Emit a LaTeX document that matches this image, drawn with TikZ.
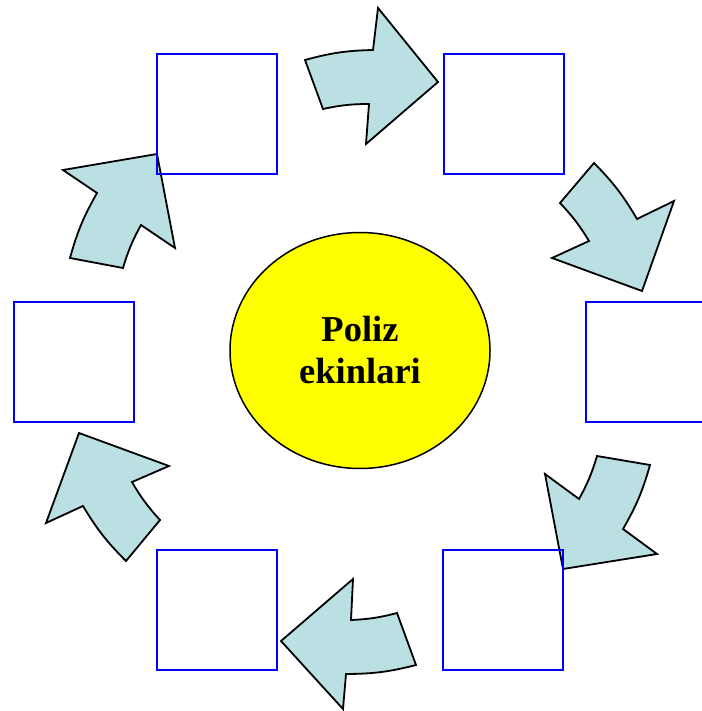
\documentclass[tikz,border=0pt]{standalone}
\usepackage{fontspec}
\setmainfont{Liberation Serif}
\usetikzlibrary{shapes.geometric}

\definecolor{arrowfill}{RGB}{186,224,227}
\definecolor{cropyellow}{RGB}{255,255,0}
\definecolor{boxblue}{RGB}{0,0,255}

\tikzset{
  stagebox/.style={rectangle,draw=boxblue,line width=2pt,minimum size=120pt,inner sep=0pt},
  cyclearrow/.style={fill=arrowfill,draw=black,line width=1.8pt,line join=miter}
}

\begin{document}
\begin{tikzpicture}[x=1pt,y=-1pt]
        \useasboundingbox (0,0) rectangle (701,711);

        % arrows running clockwise round the centre
        \draw[cyclearrow] (305,60) to[bend left=7] (373,50) -- (378,8) -- (438,82) -- (366,144) -- (369,104) to[bend right=6] (323,109) -- cycle;
        \draw[cyclearrow] (594,163) to[bend left=7] (637,219) -- (674,201) -- (642,291) -- (552,258) -- (589,241) to[bend right=6] (560,203) -- cycle;
        \draw[cyclearrow] (650,465) to[bend left=7] (623,529) -- (657,554) -- (563,569) -- (545,474) -- (579,499) to[bend right=6] (597,456) -- cycle;
        \draw[cyclearrow] (416,665) to[bend left=7] (346,674) -- (343,709) -- (281,641) -- (353,579) -- (351,620) to[bend right=6] (397,613) -- cycle;
        \draw[cyclearrow] (126,561) to[bend left=7] (83,506) -- (46,523) -- (79,433) -- (169,466) -- (132,482) to[bend right=6] (160,520) -- cycle;
        \draw[cyclearrow] (70,258) to[bend left=7] (97,193) -- (63,170) -- (157,154) -- (175,248) -- (141,225) to[bend right=6] (123,268) -- cycle;

        % empty stage boxes
        \node (topleft) at (216.7,113.8) [stagebox]{};
        \node (topright) at (503.5,113.8) [stagebox]{};
        \node (right) at (646,362) [stagebox]{};
        \node (bottomright) at (503,609.7) [stagebox]{};
        \node (bottomleft) at (216.7,609.7) [stagebox]{};
        \node (left) at (73.7,362) [stagebox]{};

        \node (crop) at (360,350.5) [ellipse,draw=black,fill=cropyellow,line width=1.5pt,
          minimum width=260pt,minimum height=236pt,align=center,
          font=\fontsize{36.5}{42}\selectfont\bfseries]{Poliz\\ekinlari};

\end{tikzpicture}
\end{document}
